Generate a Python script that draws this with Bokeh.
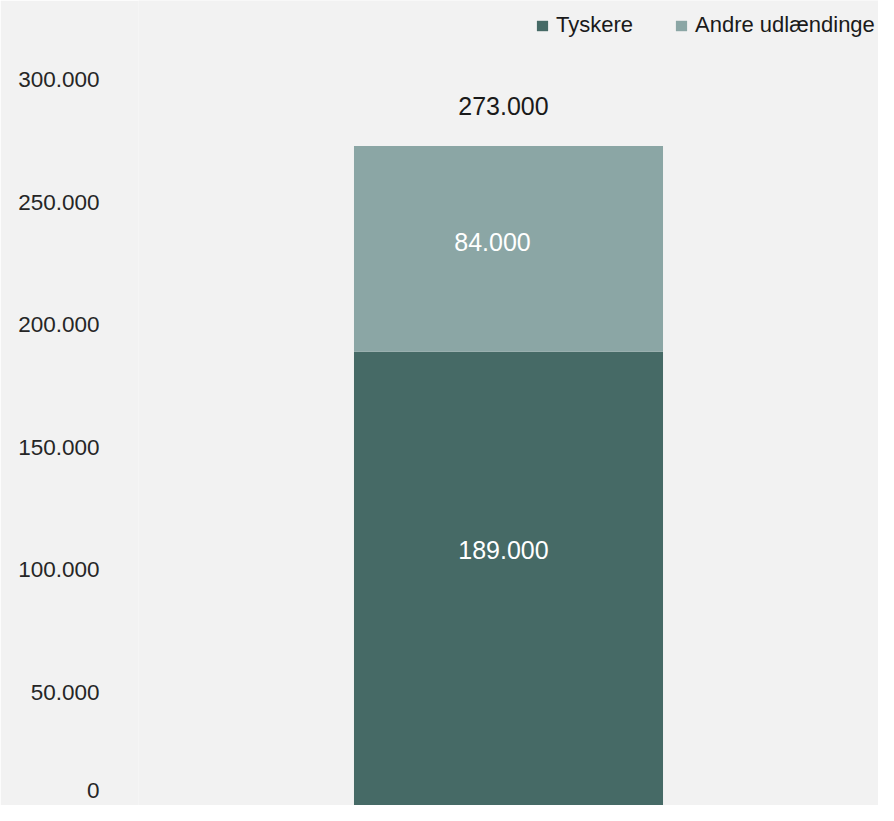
from bokeh.plotting import figure
from bokeh.models import (ColumnDataSource, Range1d, FactorRange, FixedTicker,
                          CustomJSTickFormatter, Legend, LegendItem, LabelSet)
from bokeh.core.properties import value
from bokeh.embed import file_html
from bokeh.resources import INLINE

# ---- data ----
categories = ["Udlændinge"]
series_names = ["Tyskere", "Andre udlændinge"]
tyskere = [189000]
andre = [84000]
y_ticks = [0, 50000, 100000, 150000, 200000, 250000, 300000]

colors = ["#466a66", "#8ba6a5"]
FONT = "Liberation Sans"
BG = "#f2f2f2"

Y_START, Y_END = 3917, 332350  # visible part of the value axis (0 lies just below the crop)


def fmt(v):
    return f"{int(round(v)):,}".replace(",", ".")


totals = [a + b for a, b in zip(tyskere, andre)]
source = ColumnDataSource(dict(
    cat=categories,
    Tyskere=tyskere,
    Andre=andre,
    total=totals,
))

p = figure(width=878, height=805, output_backend="svg", toolbar_location=None,
           x_range=FactorRange(*categories, range_padding=0),
           y_range=Range1d(Y_START, Y_END),
           x_axis_location=None,
           min_border_left=138, min_border_right=0, min_border_top=0, min_border_bottom=0)
p.background_fill_color = BG
p.border_fill_color = BG
p.outline_line_color = None
p.xgrid.visible = False
p.ygrid.visible = False

rs = p.vbar_stack(["Tyskere", "Andre"], x="cat", width=0.4176, color=colors,
                  line_color=None, source=source)

# axis: the "0" tick would sit just below the visible canvas, so it is shown at the bottom edge
zero_shown_at = Y_START + 6300
ax = p.yaxis[0]
ax.ticker = FixedTicker(ticks=[zero_shown_at] + [t for t in y_ticks if t > Y_START])
ax.formatter = CustomJSTickFormatter(args=dict(z=zero_shown_at), code="""
if (Math.abs(tick - z) < 1) return '0';
return Math.round(tick).toString().replace(/\\B(?=(\\d{3})+(?!\\d))/g, '.');
""")
ax.axis_line_color = None
ax.major_tick_line_color = None
ax.minor_tick_line_color = None
ax.major_label_text_font = FONT
ax.major_label_text_font_size = "22.5px"
ax.major_label_text_color = "#262626"
ax.major_label_standoff = 33

# data labels
seg_src = ColumnDataSource(dict(
    cat=categories * 2,
    y=[t / 2 for t in tyskere] + [t + a / 2 for t, a in zip(tyskere, andre)],
    txt=[fmt(v) for v in tyskere] + [fmt(v) for v in andre],
    dx=[-5, -16],
    dy=[33, 7],
))
p.add_layout(LabelSet(x="cat", y="y", text="txt", source=seg_src,
                      x_offset="dx", y_offset="dy", text_align="center", text_baseline="middle",
                      text_font=value(FONT), text_font_size="25px", text_color="white"))

tot_src = ColumnDataSource(dict(cat=categories, y=totals, txt=[fmt(v) for v in totals]))
p.add_layout(LabelSet(x="cat", y="y", text="txt", source=tot_src,
                      x_offset=-5, y_offset=40, text_align="center", text_baseline="middle",
                      text_font=value(FONT), text_font_size="25px", text_color="#1a1a1a"))

legend = Legend(items=[LegendItem(label=series_names[i], renderers=[rs[i]]) for i in range(2)],
                orientation="horizontal", location=(397, 767),
                margin=0, padding=2, spacing=41,
                glyph_width=14, glyph_height=13, label_standoff=7,
                label_text_font=FONT, label_text_font_size="22px",
                label_text_color="#1a1a1a",
                border_line_color=None, background_fill_alpha=0)
p.add_layout(legend)

open("out.html", "w").write(file_html(p, INLINE))
